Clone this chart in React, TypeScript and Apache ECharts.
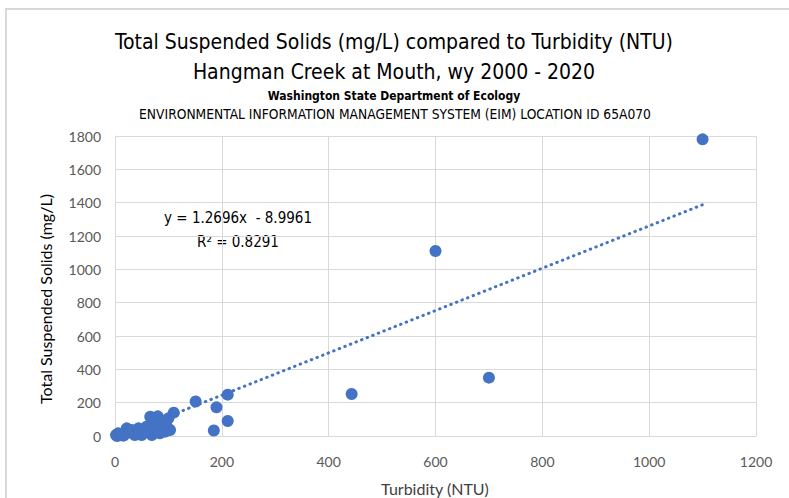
import React, { useEffect, useRef } from "react";
import * as echarts from "echarts";

// Turbidity (NTU) of each sample
const turbidity = [
  1100, 600, 700, 443, 211, 151, 190, 211, 185, 110,
  66, 80, 78, 100, 97, 103, 75, 59, 56, 44,
  31, 22, 6, 2, 4, 16, 37, 50, 69, 84,
  94, 10, 25, 12, 45, 62, 88, 70, 90, 92,
];
// Total Suspended Solids (mg/L) of each sample
const tss = [
  1780, 1110, 350, 252, 248, 207, 172, 90, 33, 140,
  116, 118, 86, 106, 56, 36, 46, 56, 26, 46,
  36, 46, 16, 6, 0, 2, 6, 6, 6, 16,
  26, 10, 20, 4, 20, 30, 40, 70, 66, 80,
];

const slope = 1.2696;
const intercept = -8.9961;
const rSquared = 0.8291;

const xMin = 0;
const xMax = 1200;
const xStep = 200;
const yMin = 0;
const yMax = 1800;
const yStep = 200;

const titleLines = [
  "Total Suspended Solids (mg/L) compared to Turbidity (NTU)",
  "Hangman Creek at Mouth, wy 2000 - 2020",
  "Washington State Department of Ecology",
  "ENVIRONMENTAL INFORMATION MANAGEMENT SYSTEM (EIM) LOCATION ID 65A070",
];
const xName = "Turbidity (NTU)";
const yName = "Total Suspended Solids (mg/L)";

const condensed = "'DejaVu Sans Condensed', 'Liberation Sans Narrow', 'DejaVu Sans', sans-serif";
const bodyFont = "Lato, 'Open Sans', sans-serif";
const blue = "#4472C4";
const grid = "#d9d9d9";

export default function App() {
  const ref = useRef<HTMLDivElement>(null);
  useEffect(() => {
    const chart = echarts.init(ref.current!, null, { renderer: "svg" });
    const points = turbidity.map((x, i) => [x, tss[i]]);
    const tx0 = Math.min(...turbidity);
    const tx1 = Math.max(...turbidity);
    const trend = [
      [tx0, slope * tx0 + intercept],
      [tx1, slope * tx1 + intercept],
    ];
    const eq = `y = ${slope}x  - ${Math.abs(intercept)}`;
    const r2 = `R² = ${rSquared}`;
    const plain = (v: number) => String(v);
    chart.setOption({
      animation: false,
      backgroundColor: "#ffffff",
      grid: { left: 115, right: 33, top: 136, bottom: 62 },
      xAxis: {
        type: "value",
        min: xMin,
        max: xMax,
        interval: xStep,
        axisLine: { show: true, lineStyle: { color: grid, width: 1 } },
        axisTick: { show: false },
        splitLine: { show: true, lineStyle: { color: grid, width: 1 } },
        axisLabel: { color: "#595959", fontSize: 14, fontFamily: bodyFont, margin: 18, formatter: plain },
      },
      yAxis: {
        type: "value",
        min: yMin,
        max: yMax,
        interval: yStep,
        axisLine: { show: true, lineStyle: { color: grid, width: 1 } },
        axisTick: { show: false },
        splitLine: { show: true, lineStyle: { color: grid, width: 1 } },
        axisLabel: { color: "#595959", fontSize: 14, fontFamily: bodyFont, margin: 14, formatter: plain },
      },
      series: [
        {
          type: "scatter",
          data: points,
          symbol: "circle",
          symbolSize: 12,
          itemStyle: { color: blue, opacity: 1 },
        },
        {
          type: "line",
          data: trend,
          showSymbol: false,
          silent: true,
          lineStyle: { color: blue, width: 3, type: [0.5, 5.5], cap: "round" },
          z: 3,
        },
      ],
      graphic: [
        {
          type: "rect",
          shape: { x: 6, y: 9, width: 900, height: 700 },
          style: { fill: "none", stroke: "#d9d9d9", lineWidth: 2 },
          silent: true,
        },
        {
          type: "text", x: 394, y: 42,
          style: { text: titleLines[0], fontSize: 21, fontFamily: condensed, fill: "#000", textAlign: "center", textVerticalAlign: "middle" },
        },
        {
          type: "text", x: 394, y: 72,
          style: { text: titleLines[1], fontSize: 21, fontFamily: condensed, fill: "#000", textAlign: "center", textVerticalAlign: "middle" },
        },
        {
          type: "text", x: 394, y: 96,
          style: { text: titleLines[2], fontSize: 12, fontWeight: "bold", fontFamily: condensed, fill: "#000", textAlign: "center", textVerticalAlign: "middle" },
        },
        {
          type: "text", x: 395, y: 114,
          style: { text: titleLines[3], fontSize: 13.7, fontFamily: condensed, fill: "#000", textAlign: "center", textVerticalAlign: "middle" },
        },
        {
          type: "text", x: 435, y: 488,
          style: { text: xName, fontSize: 16, fontFamily: bodyFont, fill: "#404040", textAlign: "center", textVerticalAlign: "middle" },
        },
        {
          type: "text", x: 45, y: 299, rotation: Math.PI / 2,
          style: { text: yName, fontSize: 16, fontFamily: bodyFont, fill: "#000", textAlign: "center", textVerticalAlign: "middle" },
        },
        {
          type: "text", x: 238, y: 218,
          style: { text: eq, fontSize: 15, fontFamily: condensed, fill: "#000", textAlign: "center", textVerticalAlign: "middle" },
        },
        {
          type: "text", x: 238, y: 242,
          style: { text: r2, fontSize: 15, fontFamily: condensed, fill: "#000", textAlign: "center", textVerticalAlign: "middle" },
        },
      ],
    });
    return () => chart.dispose();
  }, []);
  return (
    <div
      ref={ref}
      style={{ position: "absolute", left: 0, top: 0, width: 789, height: 498, background: "#fff" }}
    />
  );
}
